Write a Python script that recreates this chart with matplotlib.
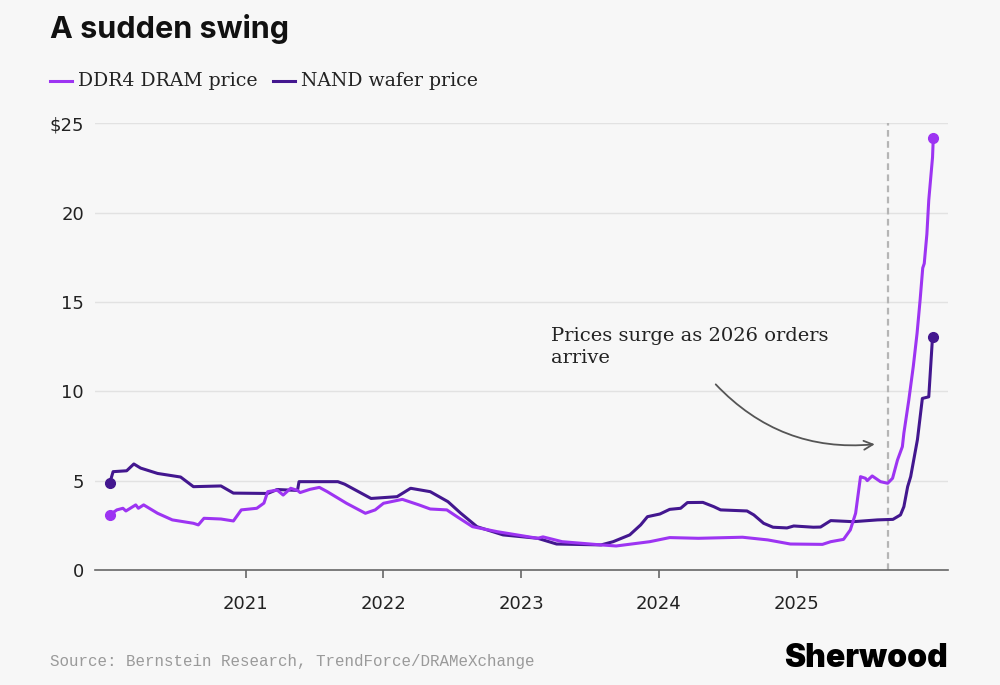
import matplotlib
matplotlib.use("Agg")
import matplotlib.pyplot as plt
import matplotlib.dates as mdates
import pandas as pd

# DDR4 DRAM price (USD)
dram_dates = [
    "2020-01-06", "2020-01-25", "2020-02-10", "2020-02-18", "2020-03-15", "2020-03-22",
    "2020-04-05", "2020-05-12", "2020-06-20", "2020-08-15", "2020-08-28", "2020-09-12",
    "2020-10-27", "2020-11-29", "2020-12-20", "2021-01-30", "2021-02-18", "2021-02-28",
    "2021-03-25", "2021-04-10", "2021-04-30", "2021-05-18", "2021-05-25", "2021-06-20",
    "2021-07-15", "2021-08-05", "2021-09-25", "2021-11-14", "2021-12-10", "2022-01-01",
    "2022-02-20", "2022-04-05", "2022-05-05", "2022-06-18", "2022-07-15", "2022-08-25",
    "2022-10-30", "2023-02-14", "2023-02-28", "2023-04-20", "2023-08-01", "2023-09-10",
    "2023-12-08", "2024-01-30", "2024-04-15", "2024-08-10", "2024-10-16", "2024-12-15",
    "2025-03-10", "2025-04-01", "2025-05-05", "2025-05-23", "2025-06-06", "2025-06-19",
    "2025-07-02", "2025-07-07", "2025-07-20", "2025-08-11", "2025-08-30", "2025-09-12",
    "2025-09-25", "2025-10-08", "2025-10-12", "2025-10-25", "2025-11-06", "2025-11-16",
    "2025-11-24", "2025-12-01", "2025-12-05", "2025-12-12", "2025-12-17", "2025-12-27",
    "2025-12-29",
]
dram_price = [
    3.08, 3.36, 3.45, 3.30, 3.64, 3.45,
    3.64, 3.17, 2.80, 2.61, 2.52, 2.89,
    2.85, 2.74, 3.36, 3.45, 3.74, 4.38,
    4.47, 4.19, 4.57, 4.45, 4.33, 4.51,
    4.62, 4.38, 3.73, 3.17, 3.36, 3.73,
    3.95, 3.64, 3.41, 3.36, 2.98, 2.42,
    2.14, 1.77, 1.85, 1.58, 1.40, 1.34,
    1.58, 1.81, 1.77, 1.83, 1.68, 1.45,
    1.43, 1.58, 1.71, 2.24, 3.17, 5.22,
    5.13, 5.00, 5.26, 4.94, 4.85, 5.13,
    6.15, 6.90, 7.66, 9.50, 11.40, 13.25,
    15.10, 16.90, 17.15, 18.80, 20.70, 23.10,
    24.20,
]

# NAND wafer price (USD)
nand_dates = [
    "2020-01-06", "2020-01-15", "2020-02-20", "2020-03-10", "2020-03-28", "2020-05-12",
    "2020-07-12", "2020-08-15", "2020-10-27", "2020-11-29", "2021-02-28", "2021-03-25",
    "2021-05-18", "2021-05-22", "2021-09-02", "2021-09-20", "2021-11-29", "2022-02-06",
    "2022-03-14", "2022-05-05", "2022-06-21", "2022-07-24", "2022-09-06", "2022-11-14",
    "2023-02-14", "2023-04-05", "2023-08-01", "2023-09-02", "2023-10-16", "2023-11-14",
    "2023-12-02", "2024-01-04", "2024-01-30", "2024-02-28", "2024-03-17", "2024-04-27",
    "2024-05-26", "2024-06-13", "2024-08-22", "2024-09-09", "2024-10-05", "2024-10-30",
    "2024-12-06", "2024-12-24", "2025-02-14", "2025-03-05", "2025-04-01", "2025-05-31",
    "2025-08-03", "2025-09-13", "2025-10-03", "2025-10-12", "2025-10-22", "2025-10-30",
    "2025-11-17", "2025-11-30", "2025-12-17", "2025-12-27",
]
nand_price = [
    4.85, 5.50, 5.55, 5.93, 5.70, 5.40,
    5.20, 4.66, 4.70, 4.30, 4.28, 4.50,
    4.45, 4.94, 4.94, 4.80, 4.00, 4.10,
    4.57, 4.38, 3.82, 3.19, 2.42, 1.96,
    1.77, 1.45, 1.40, 1.58, 1.96, 2.52,
    2.98, 3.13, 3.39, 3.45, 3.77, 3.78,
    3.54, 3.36, 3.30, 3.08, 2.61, 2.39,
    2.35, 2.46, 2.39, 2.40, 2.76, 2.70,
    2.80, 2.83, 3.08, 3.54, 4.66, 5.22,
    7.30, 9.60, 9.69, 13.05,
]

y_ticks = [0, 5, 10, 15, 20, 25]
y_labels = ["0", "5", "10", "15", "20", "$25"]
x_years = ["2021", "2022", "2023", "2024", "2025"]
marker_date = "2025-08-30"

dram_color = "#9d34f2"
nand_color = "#43178f"
bg = "#f7f7f7"

dram_x = pd.to_datetime(dram_dates)
nand_x = pd.to_datetime(nand_dates)

fig = plt.figure(figsize=(10, 6.85), dpi=100, facecolor=bg)
ax = fig.add_axes([0.095, 0.168, 0.853, 0.652], facecolor=bg)

ax.plot(nand_x, nand_price, color=nand_color, lw=2.2, zorder=3)
ax.plot(dram_x, dram_price, color=dram_color, lw=2.2, zorder=4)
for xs, ys, c in [(nand_x, nand_price, nand_color), (dram_x, dram_price, dram_color)]:
    ax.plot([xs[0], xs[-1]], [ys[0], ys[-1]], "o", color=c, ms=7, zorder=5)

ax.axvline(pd.Timestamp(marker_date), color="#b5b5b5", ls=(0, (3, 2)), lw=1.6, zorder=2)

ax.set_ylim(0, 25)
ax.set_xlim(pd.Timestamp("2019-11-28"), pd.Timestamp("2026-02-06"))
ax.set_yticks(y_ticks)
ax.set_yticklabels(y_labels)
ax.set_xticks(pd.to_datetime([y + "-01-01" for y in x_years]))
ax.xaxis.set_major_formatter(mdates.DateFormatter("%Y"))

for t in y_ticks[1:]:
    ax.axhline(t, color="#e2e2e2", lw=1, zorder=1)

for s in ["top", "right", "left"]:
    ax.spines[s].set_visible(False)
ax.spines["bottom"].set_color("#666666")
ax.spines["bottom"].set_linewidth(1.2)
ax.tick_params(axis="y", length=0, pad=8, labelsize=13, labelcolor="#222222")
ax.tick_params(axis="x", length=6, width=1.2, color="#666666", pad=12,
               labelsize=13, labelcolor="#222222")

ax.annotate("", xy=(pd.Timestamp("2025-08-03"), 7.05),
            xytext=(pd.Timestamp("2024-05-26"), 10.5),
            arrowprops=dict(arrowstyle="->", color="#555555", lw=1.3,
                            connectionstyle="arc3,rad=0.25", mutation_scale=16))
ax.text(pd.Timestamp("2023-03-20"), 13.6, "Prices surge as 2026 orders\narrive",
        family="DejaVu Serif", fontsize=14, color="#222222", va="top",
        linespacing=1.3)

fig.text(0.05, 0.957, "A sudden swing", fontsize=22, fontweight="bold",
         color="#111111", va="center", family=["Inter", "DejaVu Sans"])

# legend
fig.lines.append(plt.Line2D([0.05, 0.072], [0.882, 0.882], color=dram_color, lw=2.2,
                            transform=fig.transFigure))
fig.text(0.078, 0.882, "DDR4 DRAM price", fontsize=13.6, family="DejaVu Serif",
         color="#222222", va="center")
fig.lines.append(plt.Line2D([0.273, 0.295], [0.882, 0.882], color=nand_color, lw=2.2,
                            transform=fig.transFigure))
fig.text(0.301, 0.882, "NAND wafer price", fontsize=13.6, family="DejaVu Serif",
         color="#222222", va="center")

fig.text(0.05, 0.034, "Source: Bernstein Research, TrendForce/DRAMeXchange",
         fontsize=11.4, family="Liberation Mono", color="#9a9a9a", va="center")
fig.text(0.948, 0.038, "Sherwood", fontsize=23, fontweight="black",
         family=["Inter", "DejaVu Sans"], color="#000000", ha="right", va="center")

fig.savefig("out.png", dpi=100, facecolor=bg)
